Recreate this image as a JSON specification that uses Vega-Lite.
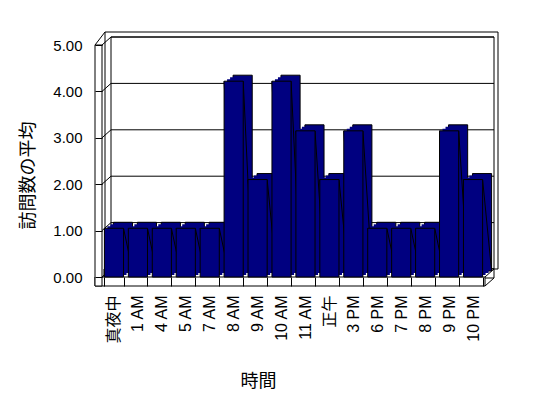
{
  "$schema": "https://vega.github.io/schema/vega-lite/v6.json",
  "width": 383,
  "height": 232,
  "autosize": {"type": "none"},
  "padding": {"left": 102, "top": 45, "right": 63, "bottom": 121},
  "background": "white",
  "config": {"view": {"stroke": null}, "font": "Liberation Sans"},
  "datasets": {
    "visits": [
      {"hour": "真夜中", "value": 1.05},
      {"hour": "1 AM", "value": 1.05},
      {"hour": "4 AM", "value": 1.05},
      {"hour": "5 AM", "value": 1.05},
      {"hour": "7 AM", "value": 1.05},
      {"hour": "8 AM", "value": 4.22},
      {"hour": "9 AM", "value": 2.1},
      {"hour": "10 AM", "value": 4.22},
      {"hour": "11 AM", "value": 3.15},
      {"hour": "正午", "value": 2.1},
      {"hour": "3 PM", "value": 3.15},
      {"hour": "6 PM", "value": 1.05},
      {"hour": "7 PM", "value": 1.05},
      {"hour": "8 PM", "value": 1.05},
      {"hour": "9 PM", "value": 3.15},
      {"hour": "10 PM", "value": 2.1}
    ],
    "levels": [{"v": 0}, {"v": 1}, {"v": 2}, {"v": 3}, {"v": 4}, {"v": 5}],
    "one": [{"k": 1}]
  },
  "resolve": {"scale": {"x": "independent"}},
  "layer": [
    {
      "layer": [
        {
          "data": {"name": "one"},
          "mark": {"type": "rect", "fill": "white", "stroke": "black", "strokeWidth": 1, "xOffset": 3, "x2Offset": 13, "yOffset": -13, "y2Offset": -8},
          "encoding": {
            "x": {"datum": 0, "type": "quantitative", "scale": {"domain": [0, 16], "nice": false, "zero": false}, "axis": null},
            "x2": {"datum": 16},
            "y": {"datum": 5, "type": "quantitative", "scale": {"domain": [0, 5], "nice": false}},
            "y2": {"datum": 0}
          }
        },
        {
          "data": {"name": "one"},
          "mark": {"type": "rect", "fill": "white", "stroke": "black", "strokeWidth": 1, "xOffset": 9, "x2Offset": 9, "yOffset": -8, "y2Offset": -8},
          "encoding": {
            "x": {"datum": 0, "type": "quantitative"},
            "x2": {"datum": 16},
            "y": {"datum": 5, "type": "quantitative"},
            "y2": {"datum": 0}
          }
        },
        {
          "data": {"name": "levels"},
          "mark": {"type": "rule", "color": "black", "strokeWidth": 1, "xOffset": 9, "x2Offset": 9, "yOffset": -8},
          "encoding": {
            "x": {"datum": 0, "type": "quantitative"},
            "x2": {"datum": 16},
            "y": {"field": "v", "type": "quantitative"}
          }
        },
        {
          "data": {"name": "one"},
          "mark": {"type": "rect", "fill": "white", "stroke": "black", "strokeWidth": 1, "xOffset": 2, "x2Offset": 9, "yOffset": -8, "y2Offset": 1},
          "encoding": {
            "x": {"datum": 0, "type": "quantitative"},
            "x2": {"datum": 16},
            "y": {"datum": 0, "type": "quantitative"},
            "y2": {"datum": 0}
          }
        },
        {
          "data": {"name": "one"},
          "mark": {"type": "rect", "fill": "white", "stroke": "black", "strokeWidth": 1, "xOffset": -7, "x2Offset": 0, "yOffset": 0, "y2Offset": 9},
          "encoding": {
            "x": {"datum": 0, "type": "quantitative"},
            "x2": {"datum": 16},
            "y": {"datum": 0, "type": "quantitative"},
            "y2": {"datum": 0}
          }
        },
        {
          "data": {"name": "one"},
          "mark": {"type": "rule", "color": "black", "strokeWidth": 1, "x2Offset": 9, "y2Offset": -8},
          "encoding": {
            "x": {"datum": 16, "type": "quantitative"},
            "x2": {"datum": 16},
            "y": {"datum": 0, "type": "quantitative"},
            "y2": {"datum": 0}
          }
        },
        {
          "data": {"name": "one"},
          "mark": {"type": "rule", "color": "black", "strokeWidth": 1, "x2Offset": 9, "yOffset": 9, "y2Offset": 1},
          "encoding": {
            "x": {"datum": 16, "type": "quantitative"},
            "x2": {"datum": 16},
            "y": {"datum": 0, "type": "quantitative"},
            "y2": {"datum": 0}
          }
        },
        {
          "data": {"name": "one"},
          "mark": {"type": "rect", "fill": "white", "stroke": "black", "strokeWidth": 1, "xOffset": -7, "x2Offset": 0, "y2Offset": 9},
          "encoding": {
            "x": {"datum": 0, "type": "quantitative"},
            "x2": {"datum": 0},
            "y": {"datum": 5, "type": "quantitative"},
            "y2": {"datum": 0}
          }
        },
        {
          "data": {"name": "levels"},
          "mark": {"type": "rule", "color": "black", "strokeWidth": 1, "x2Offset": 9, "y2Offset": -8},
          "encoding": {
            "x": {"datum": 0, "type": "quantitative"},
            "x2": {"datum": 0},
            "y": {"field": "v", "type": "quantitative"},
            "y2": {"field": "v"}
          }
        },
        {
          "data": {"name": "one"},
          "mark": {"type": "rule", "color": "black", "strokeWidth": 1, "xOffset": -7, "x2Offset": 3, "y2Offset": -13},
          "encoding": {
            "x": {"datum": 0, "type": "quantitative"},
            "x2": {"datum": 0},
            "y": {"datum": 5, "type": "quantitative"},
            "y2": {"datum": 5}
          }
        }
      ]
    },
    {
      "data": {"name": "visits"},
      "encoding": {
        "x": {
          "field": "hour",
          "type": "nominal",
          "sort": null,
          "scale": {"paddingInner": 0.2, "paddingOuter": 0.1},
          "axis": {
            "orient": "bottom",
            "zindex": 2,
            "title": "時間",
            "labelAngle": -90,
            "labelFontSize": 16,
            "labelFont": "Liberation Sans, Noto Sans CJK JP",
            "labelColor": "black",
            "labelPadding": 9,
            "domain": false,
            "ticks": true,
            "tickBand": "extent",
            "tickSize": 9,
            "tickColor": "black",
            "offset": 0,
            "titleFontSize": 18,
            "titleFont": "Noto Sans CJK JP",
            "titleFontWeight": "normal",
            "titleColor": "black",
            "titleX": 156,
            "titleY": 104,
            "titleBaseline": "middle",
            "titleAlign": "center"
          }
        },
        "y": {
          "field": "value",
          "type": "quantitative",
          "axis": {
            "zindex": 2,
            "title": "訪問数の平均",
            "values": [0, 1, 2, 3, 4, 5],
            "format": ".2f",
            "grid": false,
            "domain": false,
            "offset": 0,
            "tickSize": 7,
            "tickColor": "black",
            "labelFontSize": 15,
            "labelColor": "black",
            "labelPadding": 13,
            "titleFontSize": 18,
            "titleFont": "Noto Sans CJK JP",
            "titleFontWeight": "normal",
            "titleColor": "black",
            "titleX": -74,
            "titleY": 130,
            "titleAngle": -90,
            "titleBaseline": "middle",
            "titleAlign": "center"
          }
        },
        "y2": {"datum": 0}
      },
      "layer": [
        {"mark": {"type": "bar", "fill": "#000080", "stroke": "black", "strokeWidth": 1, "xOffset": 9, "yOffset": -6, "y2Offset": -6}},
        {"mark": {"type": "bar", "fill": "#000080", "strokeWidth": 0, "xOffset": 6, "yOffset": -4, "y2Offset": -4}},
        {"mark": {"type": "bar", "fill": "#000080", "strokeWidth": 0, "xOffset": 3, "yOffset": -2, "y2Offset": -2}},
        {
          "mark": {"type": "rule", "color": "black", "strokeWidth": 1, "x2Offset": 9, "y2Offset": -6},
          "encoding": {
            "x": {"field": "hour", "type": "nominal", "sort": null, "bandPosition": 0},
            "x2": {"field": "hour", "bandPosition": 0},
            "y2": {"field": "value"}
          }
        },
        {
          "mark": {"type": "rule", "color": "black", "strokeWidth": 1, "x2Offset": 9, "y2Offset": -6},
          "encoding": {
            "x": {"field": "hour", "type": "nominal", "sort": null, "bandPosition": 1},
            "x2": {"field": "hour", "bandPosition": 1},
            "y2": {"field": "value"}
          }
        },
        {"mark": {"type": "bar", "fill": "#000080", "stroke": "black", "strokeWidth": 1}}
      ]
    }
  ]
}
